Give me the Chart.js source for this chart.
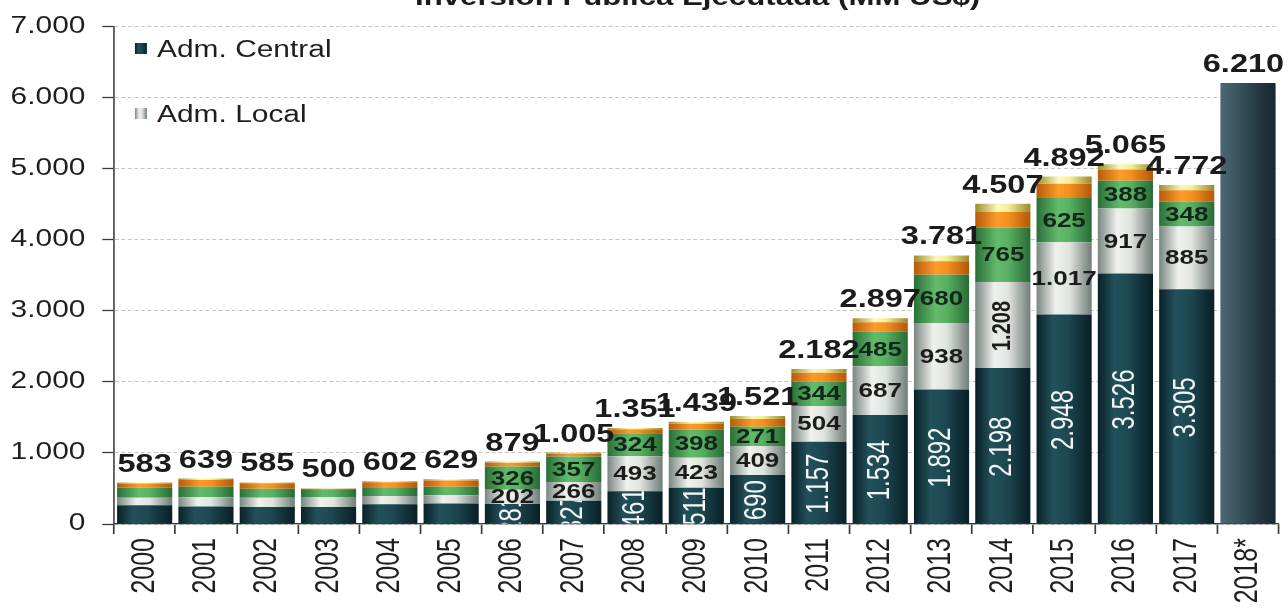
<!DOCTYPE html>
<html lang="es">
<head>
<meta charset="utf-8">
<title>Inversión Pública Ejecutada (MM US$)</title>
<script src="https://cdn.jsdelivr.net/npm/chart.js@4.4.1/dist/chart.umd.min.js"></script>
<style>
  html, body { margin: 0; padding: 0; background: #ffffff; overflow: hidden; }
  canvas { display: block; }
</style>
</head>
<body>
<canvas id="grafico"></canvas>
<script>
// ---- Datos (MM US$) ----
const anios = ['2000','2001','2002','2003','2004','2005','2006','2007','2008','2009',
               '2010','2011','2012','2013','2014','2015','2016','2017','2018*'];
const admCentral = [265, 245, 240, 240, 278, 290, 281, 327, 461, 511, 690, 1157, 1534, 1892, 2198, 2948, 3526, 3305, null];
const admLocal   = [105, 130, 130, 140, 115, 115, 202, 266, 493, 423, 409, 504, 687, 938, 1208, 1017, 917, 885, null];
const empresas   = [140, 150, 125, 100, 115, 118, 326, 357, 324, 398, 271, 344, 485, 680, 765, 625, 388, 348, null];
const otrosA     = [60, 95, 78, 15, 80, 90, 55, 42, 55, 80, 110, 125, 135, 190, 220, 200, 160, 160, null];
const otrosB     = [13, 19, 12, 5, 14, 16, 15, 13, 18, 27, 41, 52, 56, 81, 116, 102, 74, 74, null];
const presupuesto2018 = [null, null, null, null, null, null, null, null, null, null,
                         null, null, null, null, null, null, null, null, 6210];
const ticksY = [0, 1000, 2000, 3000, 4000, 5000, 6000, 7000];

// ---- Presentación ----
const ESTIRA = 1.3;                 // ensanchamiento horizontal del dibujo
const ANCHO = 994, ALTO = 615;      // tamaño lógico del gráfico
const FUENTE = "'Liberation Sans', Arial, sans-serif";
const PRIMER_ROTULO = anios.indexOf('2006');
const LOCAL_VERTICAL = ['2014'];

const tonos = {
  central:  [[0,'#0a2128'],[0.3,'#22515b'],[0.55,'#1d4852'],[1,'#091f26']],
  local:    [[0,'#7a8681'],[0.35,'#eff1ed'],[0.6,'#dfe3de'],[1,'#707d78']],
  verde:    [[0,'#2a6f38'],[0.4,'#64bb6c'],[0.6,'#58b062'],[1,'#286b35']],
  naranja:  [[0,'#b85a0a'],[0.4,'#fb9c2c'],[0.6,'#f4901f'],[1,'#b35709']],
  amarillo: [[0,'#9a8e28'],[0.4,'#fcf8bc'],[0.6,'#f3ee98'],[1,'#968a27']],
  proyeccion: [[0,'#4c6872'],[0.35,'#37525c'],[0.75,'#21343d'],[1,'#182830']]
};

function formato(v) {
  return String(v).replace(/\B(?=(\d{3})+(?!\d))/g, '.');
}

function sombreado(paradas) {
  const liso = paradas[1][1];
  return (c) => {
    const chart = c.chart;
    const xs = chart.scales && chart.scales.x;
    if (!chart.chartArea || !xs || c.type !== 'data' || !xs.width) return liso;
    const cx = xs.getPixelForValue(c.dataIndex);
    const medio = (chart.chartArea.width / anios.length) * 0.9 / 2;
    const g = chart.ctx.createLinearGradient(cx - medio, 0, cx + medio, 0);
    paradas.forEach(([o, col]) => g.addColorStop(o, col));
    return g;
  };
}

const canvas = document.getElementById('grafico');
canvas.width = ANCHO; canvas.height = ALTO;
canvas.style.width = ANCHO + 'px'; canvas.style.height = ALTO + 'px';

Chart.defaults.font.family = FUENTE;

// Dibujo con ensanchamiento horizontal
const estirado = {
  id: 'estirado',
  beforeDraw(chart) { chart.ctx.setTransform(ESTIRA, 0, 0, 1, 0, 0); }
};

// Título, leyenda, rótulos de segmentos y totales
const rotulos = {
  id: 'rotulos',
  afterDatasetsDraw(chart) {
    const ctx = chart.ctx;

    // segmentos
    const estilos = [
      { ds: 0, datos: admCentral, fuente: '24px ' + FUENTE, color: '#f3f6f6', vertical: () => true, recorte: true },
      { ds: 1, datos: admLocal, fuente: 'bold 20px ' + FUENTE, color: '#1c1c1c', vertical: (i) => LOCAL_VERTICAL.includes(anios[i]), recorte: false },
      { ds: 2, datos: empresas, fuente: 'bold 20px ' + FUENTE, color: '#13261a', vertical: () => false, recorte: false }
    ];
    estilos.forEach(e => {
      const meta = chart.getDatasetMeta(e.ds);
      meta.data.forEach((el, i) => {
        const v = e.datos[i];
        if (i < PRIMER_ROTULO || v == null) return;
        const yc = (el.y + el.base) / 2;
        ctx.save();
        if (e.recorte) {
          ctx.beginPath();
          ctx.rect(el.x - el.width / 2, el.y, el.width, el.base - el.y);
          ctx.clip();
        }
        ctx.font = e.fuente;
        ctx.fillStyle = e.color;
        ctx.textAlign = 'center';
        ctx.textBaseline = 'middle';
        ctx.translate(el.x, yc + 1);
        if (e.vertical(i)) ctx.rotate(-Math.PI / 2);
        ctx.fillText(formato(v), 0, 0);
        ctx.restore();
      });
    });

    // totales sobre cada barra
    const series = [admCentral, admLocal, empresas, otrosA, otrosB, presupuesto2018];
    ctx.save();
    ctx.font = 'bold 25px ' + FUENTE;
    ctx.fillStyle = '#1b1b1b';
    ctx.textAlign = 'center';
    ctx.textBaseline = 'alphabetic';
    const limite = 1288 / ESTIRA - 3;
    anios.forEach((a, i) => {
      let total = 0, tope = Infinity, x = null;
      series.forEach((s, d) => {
        if (s[i] == null) return;
        total += s[i];
        const el = chart.getDatasetMeta(d).data[i];
        tope = Math.min(tope, el.y);
        x = el.x;
      });
      if (x == null) return;
      const txt = formato(total);
      const w = ctx.measureText(txt).width;
      if (x + w / 2 > limite) x = limite - w / 2;
      ctx.fillText(txt, x, tope - 11);
    });
    ctx.restore();

    // título
    ctx.save();
    ctx.font = 'bold 24px ' + FUENTE;
    ctx.fillStyle = '#1b1b1b';
    ctx.textAlign = 'right';
    ctx.textBaseline = 'alphabetic';
    ctx.fillText('Inversión Pública Ejecutada (MM US$)', 754, 5);
    ctx.restore();

    // leyenda
    const leyenda = [
      { texto: 'Adm. Central', tono: tonos.central, y: 43 },
      { texto: 'Adm. Local', tono: tonos.local, y: 108 }
    ];
    leyenda.forEach(l => {
      ctx.save();
      const x0 = 103.8, w = 9.2, h = 11;
      const g = ctx.createLinearGradient(x0, 0, x0 + w, 0);
      l.tono.forEach(([o, c]) => g.addColorStop(o, c));
      ctx.fillStyle = g;
      ctx.fillRect(x0, l.y, w, h);
      ctx.font = '23px ' + FUENTE;
      ctx.fillStyle = '#1e1e1e';
      ctx.textAlign = 'left';
      ctx.textBaseline = 'alphabetic';
      ctx.fillText(l.texto, 120.8, l.y + 14);
      ctx.restore();
    });
  }
};

const serie = (label, data, tono) => ({
  label, data,
  backgroundColor: sombreado(tono),
  borderWidth: 0,
  barPercentage: 0.9,
  categoryPercentage: 1.0
});

const chart = new Chart(canvas, {
  type: 'bar',
  data: {
    labels: anios,
    datasets: [
      serie('Adm. Central', admCentral, tonos.central),
      serie('Adm. Local', admLocal, tonos.local),
      serie('Empresas', empresas, tonos.verde),
      serie('Otros A', otrosA, tonos.naranja),
      serie('Otros B', otrosB, tonos.amarillo),
      serie('2018*', presupuesto2018, tonos.proyeccion)
    ]
  },
  options: {
    responsive: false,
    animation: false,
    devicePixelRatio: 1,
    layout: { padding: { top: 23, left: 0, right: 0, bottom: 0 } },
    plugins: {
      legend: { display: false },
      tooltip: { enabled: false },
      title: { display: false }
    },
    scales: {
      x: {
        stacked: true,
        offset: true,
        grid: {
          display: true, offset: true, drawOnChartArea: false, drawTicks: true,
          tickLength: 10, tickColor: '#3a3a3a', tickWidth: 1.3, tickBorderDash: []
        },
        border: { display: true, color: '#3a3a3a', width: 1.3 },
        ticks: {
          autoSkip: false, minRotation: 90, maxRotation: 90, padding: 4,
          color: '#1e1e1e', font: { size: 25 }
        },
        afterFit(s) { s.height = 91; }
      },
      y: {
        stacked: true,
        min: ticksY[0],
        max: ticksY[ticksY.length - 1],
        afterBuildTicks(s) { s.ticks = ticksY.map(v => ({ value: v })); },
        grid: {
          color: '#c6c6c6', lineWidth: 1, drawTicks: true,
          tickLength: 9, tickColor: '#3a3a3a', tickWidth: 1.3, tickBorderDash: []
        },
        border: { display: true, color: '#4a4a4a', width: 1.3, dash: [3, 2] },
        ticks: {
          padding: 13, color: '#1e1e1e', font: { size: 23 },
          callback: (v) => formato(v)
        },
        afterFit(s) { s.width = 87.7; }
      }
    }
  },
  plugins: [estirado, rotulos]
});

// lienzo final a tamaño de ventana, con el dibujo ensanchado
canvas.width = 1288;
canvas.height = ALTO;
canvas.style.width = '1288px';
canvas.style.height = ALTO + 'px';
chart.draw();
</script>
</body>
</html>
